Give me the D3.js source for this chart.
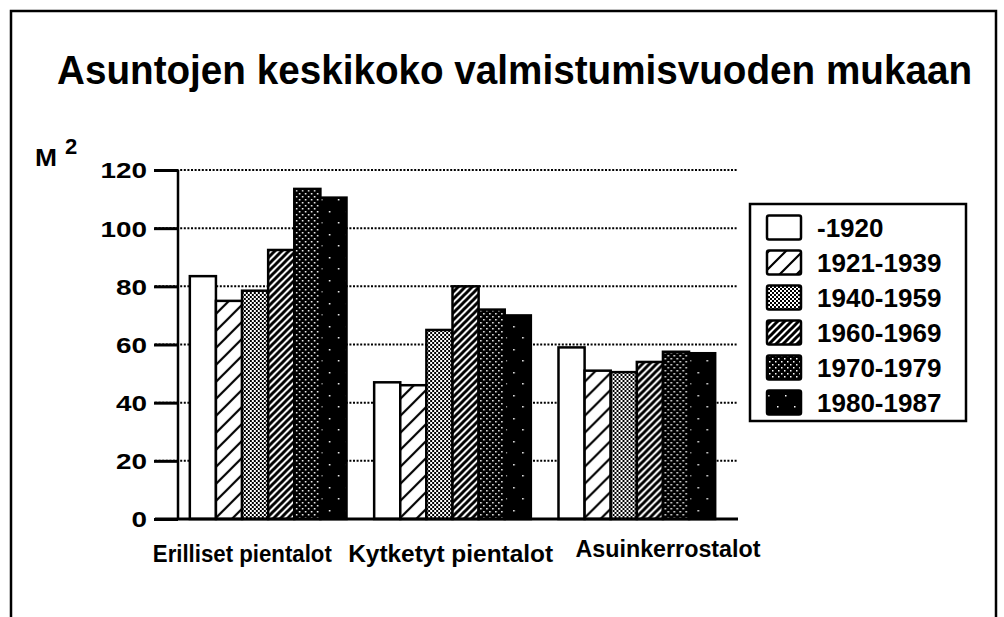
<!DOCTYPE html>
<html>
<head>
<meta charset="utf-8">
<script src="https://cdn.jsdelivr.net/npm/d3@7"></script>
<style>
  html, body { margin: 0; padding: 0; background: #fff; }
  svg { display: block; }
  text { font-family: "Liberation Sans", Arial, Helvetica, sans-serif; font-weight: bold; fill: #000; }
</style>
</head>
<body>
<svg id="chart" width="1004" height="617"></svg>
<script>
// ---- data ----
const title = "Asuntojen keskikoko valmistumisvuoden mukaan";
const categories = ["Erilliset pientalot", "Kytketyt pientalot", "Asuinkerrostalot"];
const seriesNames = ["-1920", "1921-1939", "1940-1959", "1960-1969", "1970-1979", "1980-1987"];
const s1920 = [83.5, 47, 59];
const s1921_1939 = [75, 46, 51];
const s1940_1959 = [78.5, 65, 50.5];
const s1960_1969 = [92.5, 80, 54];
const s1970_1979 = [113.5, 72, 57.5];
const s1980_1987 = [110.5, 70, 57];
const seriesValues = [s1920, s1921_1939, s1940_1959, s1960_1969, s1970_1979, s1980_1987];
const yTicks = [0, 20, 40, 60, 80, 100, 120];

// ---- layout ----
const W = 1004, H = 617;
const svg = d3.select("#chart");
const defs = svg.append("defs");

// patterns
function pat(id, w, h, build) {
  const p = defs.append("pattern").attr("id", id).attr("patternUnits", "userSpaceOnUse")
    .attr("width", w).attr("height", h);
  build(p);
}
pat("pWhite", 4, 4, p => p.append("rect").attr("width", 4).attr("height", 4).attr("fill", "#fff"));
pat("pHatchSparse", 17, 17, p => {
  p.append("rect").attr("width", 17).attr("height", 17).attr("fill", "#fff");
  p.append("path").attr("d", "M-2,19 L19,-2 M-4,4 L4,-4 M13,21 L21,13").attr("stroke", "#000").attr("stroke-width", 2.2);
});
pat("pChecker", 4, 4, p => {
  p.append("rect").attr("width", 4).attr("height", 4).attr("fill", "#fff");
  p.append("rect").attr("width", 2).attr("height", 2).attr("fill", "#000");
  p.append("rect").attr("x", 2).attr("y", 2).attr("width", 2).attr("height", 2).attr("fill", "#000");
});
pat("pHatchDense", 7, 7, p => {
  p.append("rect").attr("width", 7).attr("height", 7).attr("fill", "#fff");
  p.append("path").attr("d", "M-1,8 L8,-1 M-2,2 L2,-2 M5,9 L9,5").attr("stroke", "#000").attr("stroke-width", 3);
});
pat("pDarkDots", 6, 6, p => {
  p.append("rect").attr("width", 6).attr("height", 6).attr("fill", "#000");
  p.append("rect").attr("x", 1).attr("y", 1).attr("width", 1.5).attr("height", 1.5).attr("fill", "#fff");
  p.append("rect").attr("x", 4).attr("y", 4).attr("width", 1.5).attr("height", 1.5).attr("fill", "#fff");
});
pat("pBlackDots", 17, 23, p => {
  p.append("rect").attr("width", 17).attr("height", 23).attr("fill", "#000");
  p.append("rect").attr("x", 3).attr("y", 4).attr("width", 1.5).attr("height", 1.5).attr("fill", "#fff");
  p.append("rect").attr("x", 12).attr("y", 15).attr("width", 1.5).attr("height", 1.5).attr("fill", "#fff");
});
const fills = ["url(#pWhite)", "url(#pHatchSparse)", "url(#pChecker)", "url(#pHatchDense)", "url(#pDarkDots)", "url(#pBlackDots)"];

// frame
svg.append("path").attr("d", `M11,${H} L11,11 L996,11 L996,${H}`)
  .attr("fill", "none").attr("stroke", "#000").attr("stroke-width", 2.5);

// title
svg.append("text").attr("x", 57).attr("y", 84).attr("font-size", 40)
  .attr("textLength", 915).attr("lengthAdjust", "spacingAndGlyphs").text(title);

// scales
const x0 = d3.scaleBand().domain(categories).range([176, 729]).paddingInner(0.15).paddingOuter(0.075);
const x1 = d3.scaleBand().domain(seriesNames).range([0, x0.bandwidth()]);
const y = d3.scaleLinear().domain([0, 120]).range([519, 170]);

const plotLeft = 178, gridLeft = 155, gridRight = 738;

// gridlines (dotted)
svg.append("g").selectAll("line").data(yTicks.filter(d => d > 0)).join("line")
  .attr("x1", gridLeft).attr("x2", gridRight)
  .attr("y1", d => y(d)).attr("y2", d => y(d))
  .attr("stroke", "#000").attr("stroke-width", 2).attr("stroke-dasharray", "2,1.6");

// y axis with D3
const yAxis = d3.axisLeft(y).tickValues(yTicks).tickSize(24).tickPadding(7).tickFormat(d3.format("d"));
const gy = svg.append("g").attr("transform", `translate(${plotLeft},0)`).call(yAxis);
gy.select(".domain").remove();
gy.selectAll(".tick line").attr("stroke", "#000").attr("stroke-width", 3);
gy.selectAll(".tick text").attr("font-size", 22).attr("font-family", null)
  .attr("dy", "0.36em")
  .attr("textLength", function(d){ return String(d).length * 15.5; })
  .attr("lengthAdjust", "spacingAndGlyphs");
gy.attr("font-family", null).attr("font-size", null);

// axis vertical line
svg.append("line").attr("x1", plotLeft).attr("x2", plotLeft).attr("y1", y(120)).attr("y2", y(0))
  .attr("stroke", "#000").attr("stroke-width", 2.5);

// bars
const groups = svg.append("g").selectAll("g").data(categories).join("g")
  .attr("transform", d => `translate(${x0(d)},0)`);
groups.selectAll("rect").data((c, ci) => seriesNames.map((s, si) => ({ s, si, v: seriesValues[si][ci] })))
  .join("rect")
  .attr("x", d => x1(d.s)).attr("width", x1.bandwidth())
  .attr("y", d => y(d.v)).attr("height", d => y(0) - y(d.v))
  .attr("fill", d => fills[d.si]).attr("stroke", "#000").attr("stroke-width", 2.5);

// baseline
svg.append("line").attr("x1", gridLeft).attr("x2", gridRight).attr("y1", y(0)).attr("y2", y(0))
  .attr("stroke", "#000").attr("stroke-width", 3);

// category labels
const labelDx = [-37, -26, 17];
const labelDy = [562, 562, 557];
const labelLen = [179, 205, 185];
svg.append("g").selectAll("text").data(categories).join("text")
  .attr("x", (d, i) => x0(d) + labelDx[i]).attr("y", (d, i) => labelDy[i])
  .attr("font-size", 23)
  .attr("textLength", (d, i) => labelLen[i]).attr("lengthAdjust", "spacingAndGlyphs")
  .text(d => d);

// unit label
svg.append("text").attr("x", 35).attr("y", 166).attr("font-size", 24)
  .attr("textLength", 22).attr("lengthAdjust", "spacingAndGlyphs").text("M");
svg.append("text").attr("x", 65).attr("y", 154).attr("font-size", 22).text("2");

// legend
const lg = svg.append("g");
lg.append("rect").attr("x", 750).attr("y", 204).attr("width", 216).attr("height", 217)
  .attr("fill", "#fff").attr("stroke", "#000").attr("stroke-width", 2.5);
const legendRow = d3.scaleBand().domain(seriesNames).range([210, 420]);
seriesNames.forEach((s, i) => {
  const cy = legendRow(s) + legendRow.bandwidth() / 2;
  lg.append("rect").attr("x", 767).attr("y", cy - 12).attr("width", 34).attr("height", 24).attr("rx", 2)
    .attr("fill", fills[i]).attr("stroke", "#000").attr("stroke-width", 2.5);
  lg.append("text").attr("x", 817).attr("y", cy + 9.5).attr("font-size", 26).text(s);
});
</script>
</body>
</html>
